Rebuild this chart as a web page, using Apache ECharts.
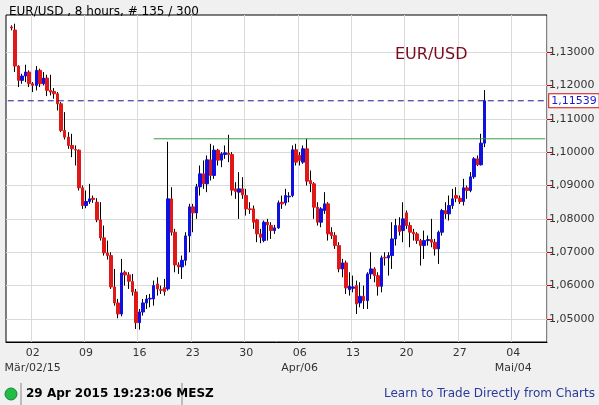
<!DOCTYPE html>
<html>
<head>
<meta charset="utf-8">
<script src="https://cdn.jsdelivr.net/npm/echarts@6/dist/echarts.min.js"></script>
<style>
html,body{margin:0;padding:0;background:#f0f0f0;}
#chart{width:599px;height:405px;}
</style>
</head>
<body>
<div id="chart"></div>
<script>
// 8h-Kerzen EUR/USD: [open, close, low, high]
var bars = [
[1.1375,1.1372,1.1365,1.1380],[1.1366,1.1258,1.1240,1.1385],[1.1258,1.1215,1.1195,1.1260],[1.1215,1.1228,1.1205,1.1235],
[1.1228,1.1240,1.1210,1.1262],[1.1240,1.1205,1.1195,1.1245],[1.1205,1.1200,1.1180,1.1210],[1.1200,1.1245,1.1185,1.1258],
[1.1245,1.1205,1.1195,1.1250],[1.1205,1.1222,1.1200,1.1240],[1.1222,1.1185,1.1168,1.1232],[1.1185,1.1180,1.1170,1.1232],
[1.1182,1.1175,1.1160,1.1192],[1.1175,1.1145,1.1125,1.1180],[1.1145,1.1065,1.1060,1.1150],[1.1065,1.1045,1.1038,1.1120],
[1.1045,1.1020,1.1010,1.1060],[1.1020,1.1010,1.0985,1.1055],[1.1008,1.1006,1.0960,1.1020],[1.1006,1.0893,1.0885,1.1008],
[1.0893,1.0840,1.0830,1.0900],[1.0840,1.0852,1.0832,1.0885],[1.0852,1.0860,1.0845,1.0905],[1.0862,1.0858,1.0848,1.0870],
[1.0850,1.0797,1.0790,1.0862],[1.0797,1.0743,1.0735,1.0850],[1.0743,1.0698,1.0690,1.0780],[1.0698,1.0690,1.0678,1.0735],
[1.0690,1.0596,1.0590,1.0700],[1.0596,1.0548,1.0540,1.0650],[1.0548,1.0515,1.0502,1.0560],[1.0515,1.0638,1.0508,1.0680],
[1.0640,1.0632,1.0600,1.0645],[1.0632,1.0613,1.0590,1.0640],[1.0612,1.0581,1.0570,1.0635],[1.0581,1.0489,1.0470,1.0590],
[1.0489,1.0521,1.0468,1.0530],[1.0521,1.0548,1.0510,1.0560],[1.0548,1.0560,1.0530,1.0572],[1.0560,1.0562,1.0535,1.0575],
[1.0560,1.0600,1.0540,1.0615],[1.0605,1.0590,1.0570,1.0625],[1.0588,1.0586,1.0575,1.0600],[1.0594,1.0582,1.0570,1.0620],
[1.0590,1.0860,1.0585,1.1031],[1.0860,1.0760,1.0750,1.0895],[1.0760,1.0662,1.0640,1.0770],[1.0662,1.0656,1.0635,1.0670],
[1.0656,1.0676,1.0620,1.0690],[1.0676,1.0749,1.0660,1.0760],[1.0749,1.0836,1.0700,1.0845],[1.0836,1.0818,1.0760,1.0845],
[1.0818,1.0896,1.0800,1.0905],[1.0896,1.0935,1.0870,1.0960],[1.0935,1.0905,1.0890,1.0975],[1.0905,1.0977,1.0880,1.0990],
[1.0977,1.0930,1.0915,1.1025],[1.0930,1.1006,1.0920,1.1020],[1.1006,1.0976,1.0960,1.1010],[1.0976,1.0995,1.0955,1.1000],
[1.0993,1.0998,1.0980,1.1020],[1.0997,1.0993,1.0970,1.1052],[1.0993,1.0886,1.0870,1.1000],[1.0890,1.0882,1.0860,1.0910],
[1.0880,1.0890,1.0800,1.0940],[1.0890,1.0872,1.0860,1.0925],[1.0870,1.0830,1.0810,1.0890],[1.0830,1.0828,1.0815,1.0850],
[1.0830,1.0790,1.0770,1.0840],[1.0797,1.0755,1.0730,1.0800],[1.0755,1.0745,1.0727,1.0770],[1.0735,1.0790,1.0730,1.0795],
[1.0790,1.0782,1.0735,1.0800],[1.0780,1.0765,1.0740,1.0790],[1.0765,1.0773,1.0755,1.0782],[1.0773,1.0848,1.0770,1.0855],
[1.0850,1.0845,1.0830,1.0870],[1.0848,1.0870,1.0840,1.0890],[1.0866,1.0868,1.0850,1.0880],[1.0870,1.1007,1.0865,1.1020],
[1.1007,1.0970,1.0960,1.1025],[1.0990,1.0975,1.0960,1.1000],[1.0970,1.1010,1.0965,1.1020],[1.1010,1.0913,1.0900,1.1040],
[1.0915,1.0905,1.0880,1.0945],[1.0905,1.0835,1.0800,1.0910],[1.0835,1.0790,1.0780,1.0850],[1.0790,1.0830,1.0775,1.0835],
[1.0825,1.0845,1.0815,1.0880],[1.0845,1.0755,1.0735,1.0850],[1.0760,1.0750,1.0740,1.0775],[1.0750,1.0720,1.0710,1.0760],
[1.0720,1.0650,1.0640,1.0730],[1.0650,1.0668,1.0625,1.0680],[1.0668,1.0593,1.0575,1.0675],[1.0588,1.0598,1.0570,1.0640],
[1.0592,1.0596,1.0580,1.0630],[1.0600,1.0545,1.0515,1.0615],[1.0548,1.0568,1.0535,1.0610],[1.0568,1.0555,1.0530,1.0600],
[1.0555,1.0635,1.0530,1.0640],[1.0635,1.0650,1.0620,1.0700],[1.0650,1.0630,1.0610,1.0655],[1.0630,1.0598,1.0570,1.0640],
[1.0598,1.0683,1.0580,1.0690],[1.0685,1.0683,1.0660,1.0700],[1.0683,1.0690,1.0630,1.0700],[1.0690,1.0740,1.0650,1.0790],
[1.0740,1.0780,1.0720,1.0800],[1.0780,1.0762,1.0750,1.0805],[1.0765,1.0800,1.0730,1.0850],[1.0818,1.0780,1.0770,1.0825],
[1.0780,1.0760,1.0715,1.0790],[1.0760,1.0755,1.0735,1.0770],[1.0755,1.0735,1.0725,1.0760],[1.0735,1.0720,1.0660,1.0740],
[1.0720,1.0735,1.0680,1.0765],[1.0735,1.0738,1.0720,1.0750],[1.0738,1.0730,1.0715,1.0800],[1.0730,1.0710,1.0690,1.0740],
[1.0710,1.0760,1.0665,1.0765],[1.0760,1.0825,1.0750,1.0830],[1.0825,1.0815,1.0800,1.0850],[1.0815,1.0840,1.0795,1.0870],
[1.0840,1.0860,1.0830,1.0890],[1.0870,1.0862,1.0850,1.0895],[1.0862,1.0852,1.0845,1.0870],[1.0852,1.0893,1.0840,1.0920],
[1.0893,1.0885,1.0860,1.0900],[1.0885,1.0926,1.0880,1.0940],[1.0926,1.0980,1.0920,1.0985],[1.0980,1.0962,1.0958,1.0990],
[1.0962,1.1027,1.0960,1.1055],[1.1027,1.1154,1.1015,1.1186]
];
var lastPrice = 1.11539;
var resistance = 1.1040;
var resistanceStart = 41;
var yTicks = [1.05, 1.06, 1.07, 1.08, 1.09, 1.10, 1.11, 1.12, 1.13];
// Montags-Slots: erster Slot leer, danach Do/Fr vor dem 02.03.
var weekLabels = ['02', '09', '16', '23', '30', '06', '13', '20', '27', '04'];
var monthLabels = {0: 'Mär/02/15', 5: 'Apr/06', 9: 'Mai/04'};
var slotCount = 152, firstMonday = 7, barsPerWeek = 15, padLeft = 1;

var cats = [], wicks = [], bodies = [], priceLine = [], resLine = [];
for (var s = 0; s < slotCount; s++) {
	cats.push(String(s));
	var b = bars[s - padLeft];
	if (b) {
		wicks.push(b);
		var lo = Math.min(b[0], b[1]), hi = Math.max(b[0], b[1]);
		bodies.push([b[0], b[1], lo, hi]);
	} else {
		wicks.push('-');
		bodies.push('-');
	}
	// Hilfslinien nur an den Endpunkten
	priceLine.push(s === 0 || s === slotCount - 1 ? lastPrice : null);
	resLine.push(s === resistanceStart || s === slotCount - 1 ? resistance : null);
}
function isMonday(i) {
	return i >= firstMonday && (i - firstMonday) % barsPerWeek === 0;
}
function fmt(v) {
	return v.toFixed(5).replace('.', ',');
}

var chart = echarts.init(document.getElementById('chart'));
chart.setOption({
	backgroundColor: '#f0f0f0',
	animation: false,
	textStyle: {fontFamily: 'DejaVu Sans'},
	grid: {left: 6, right: 52, top: 15, bottom: 63, show: true, backgroundColor: '#fff', borderColor: '#000', borderWidth: 1},
	title: [
		{text: 'EUR/USD , 8 hours, # 135 / 300', left: 4, top: 1, textStyle: {fontSize: 12, fontWeight: 'normal', color: '#000'}},
		{text: 'EUR/USD', left: 390, top: 42, textStyle: {fontSize: 16, fontWeight: 'normal', color: '#7a0a1e'}}
	],
	xAxis: {
		type: 'category',
		data: cats,
		boundaryGap: true,
		axisLine: {lineStyle: {color: '#000'}},
		axisTick: {show: false},
		splitLine: {show: true, interval: function(i) { return isMonday(i); }, lineStyle: {color: '#d9d9d9'}},
		axisLabel: {
			interval: function(i) { return isMonday(i); },
			color: '#333', fontSize: 11, lineHeight: 15, margin: 4,
			formatter: function(v, i) {
				var k = (Number(v) - firstMonday) / barsPerWeek;
				var t = weekLabels[k];
				return monthLabels[k] ? t + '\n' + monthLabels[k] : t;
			}
		}
	},
	yAxis: {
		type: 'value',
		position: 'right',
		min: 1.0431,
		max: 1.1411,
		axisLine: {show: false},
		axisTick: {show: true, customValues: yTicks, length: 5, lineStyle: {color: '#cc0000'}},
		splitLine: {show: true, lineStyle: {color: '#d9d9d9'}},
		axisLabel: {customValues: yTicks, color: '#333', fontSize: 11, margin: 2, formatter: fmt}
	},
	series: [
		{
			type: 'line', data: resLine, connectNulls: true, symbol: 'none', silent: true,
			lineStyle: {color: '#3a9a4a', width: 1}
		},
		{
			type: 'line', data: priceLine, connectNulls: true, symbol: 'none', silent: true,
			lineStyle: {color: '#1a1a8c', width: 1, type: [6, 4]},
			endLabel: {show: true, formatter: fmt(lastPrice), color: '#1a1ad0', fontSize: 11, distance: 4,
				backgroundColor: '#fff', borderColor: '#d01010', borderWidth: 1, padding: [1, 2]}
		},
		{
			type: 'candlestick',
			data: wicks,
			barWidth: 1,
			itemStyle: {color: '#000', color0: '#000', borderColor: '#000', borderColor0: '#000', borderWidth: 1}
		},
		{
			type: 'candlestick',
			data: bodies,
			barWidth: 3,
			itemStyle: {color: '#1010e0', color0: '#e01818', borderColor: '#1010e0', borderColor0: '#e01818', borderWidth: 1}
		}
	],
	graphic: [
		{type: 'circle', shape: {cx: 11, cy: 394, r: 6}, style: {fill: '#22bb44', stroke: '#118833'}},
		{type: 'line', shape: {x1: 21, y1: 383, x2: 21, y2: 405}, style: {stroke: '#888'}},
		{type: 'line', shape: {x1: 182, y1: 383, x2: 182, y2: 405}, style: {stroke: '#888'}},
		{type: 'text', left: 26, top: 388, style: {text: '29 Apr 2015 19:23:06 MESZ', font: 'bold 12px DejaVu Sans', fill: '#000'}},
		{type: 'text', right: 4, top: 388, style: {text: 'Learn to Trade Directly from Charts', font: '12px DejaVu Sans', fill: '#2a3a9a'}}
	]
});
</script>
</body>
</html>
